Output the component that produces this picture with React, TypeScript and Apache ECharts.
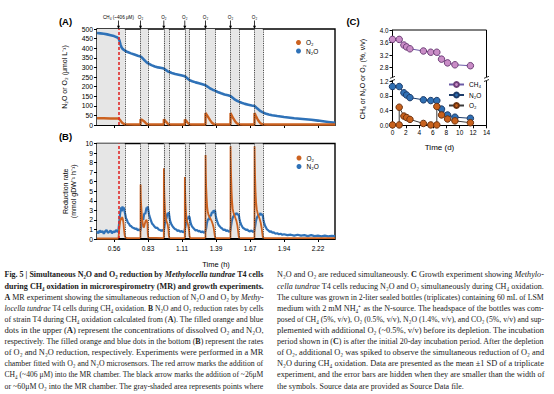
import React, { useEffect, useRef } from 'react';
import * as echarts from 'echarts';

const N2O_COLOR = '#2f72b8';
const O2_COLOR = '#cc6220';
const SHADE = '#e6e6e6';

// ---- Panels A & B: time in seconds, labelled in hours ----
const timeTicks = [2000, 3000, 4000, 5000, 6000, 7000, 8000];
const ch4Addition = 2132;
const o2Additions = [2779, 3465, 4082, 4691, 5426, 6132];
const shadedBands = [[1500, 2318], [2779, 2994], [3465, 3612], [4082, 4221], [4691, 4970], [5426, 5671], [6132, 6376]];
const rateBands = [[2132, 2318], [2779, 2994], [3465, 3612], [4082, 4221], [4691, 4970], [5426, 5671], [6132, 6376]];
const dottedLines = [2318, 2779, 2994, 3465, 3612, 4082, 4221, 4691, 4970, 5426, 5671, 6132, 6376];

// (A) dissolved N2O (umol/L)
const aN2O = [
  [1500, 479], [1600, 477], [1700, 475], [1800, 472], [1900, 468], [2000, 463], [2100, 456], [2132, 452],
  [2160, 440], [2190, 420], [2220, 405], [2260, 395], [2318, 388], [2400, 380], [2500, 373], [2600, 367],
  [2700, 361], [2779, 357], [2830, 350], [2880, 340], [2940, 330], [2994, 322], [3100, 312], [3200, 305],
  [3300, 300], [3400, 297], [3465, 294], [3520, 287], [3570, 281], [3612, 277], [3700, 271], [3800, 266],
  [3900, 262], [4000, 258], [4082, 254], [4130, 247], [4180, 240], [4221, 234], [4300, 228], [4400, 222],
  [4500, 217], [4600, 212], [4691, 207], [4760, 199], [4830, 190], [4900, 184], [4970, 179], [5050, 172],
  [5150, 165], [5250, 159], [5350, 155], [5426, 151], [5490, 142], [5560, 132], [5620, 126], [5671, 122],
  [5750, 116], [5850, 110], [5950, 106], [6050, 102], [6132, 99], [6190, 90], [6250, 81], [6310, 72],
  [6376, 66], [6450, 60], [6550, 55], [6650, 51], [6800, 47], [7000, 42], [7300, 35], [7550, 31],
  [7800, 27], [8000, 23], [8300, 16], [8500, 11],
];
// (A) dissolved O2 (umol/L)
const aO2 = [
  [1500, 35], [1700, 35], [1900, 34], [2100, 34], [2132, 34], [2170, 28], [2210, 18], [2250, 10], [2290, 6],
  [2318, 4], [2400, 3], [2600, 2.5], [2779, 2.5], [2781, 30], [2820, 27], [2870, 21], [2920, 13], [2960, 6],
  [2994, 3], [3100, 2.5], [3465, 2.5], [3467, 30], [3500, 24], [3540, 15], [3580, 7], [3612, 3], [3700, 2.5],
  [4082, 2.5], [4084, 29], [4120, 22], [4160, 13], [4200, 6], [4221, 3], [4300, 2.5], [4691, 2.5], [4693, 63],
  [4730, 52], [4780, 38], [4830, 24], [4880, 12], [4930, 5], [4970, 3], [5100, 2.5], [5426, 2.5], [5428, 62],
  [5460, 50], [5510, 34], [5560, 20], [5610, 9], [5671, 3], [5800, 2.5], [6132, 2.5], [6134, 62], [6170, 48],
  [6220, 31], [6270, 17], [6320, 7], [6376, 3], [6500, 2.5], [8500, 2.5],
];

// (B) N2O reduction rate (mmol gDW-1 h-1)
const bN2O = [
  [1500, 0.8], [1540, 0.6], [1580, 0.9], [1620, 0.7], [1660, 0.85], [1700, 0.55], [1740, 0.8], [1780, 0.95],
  [1820, 0.65], [1860, 0.75], [1900, 0.9], [1940, 0.6], [1980, 0.8], [2020, 0.7], [2060, 0.95], [2100, 0.75],
  [2130, 0.85], [2150, 1.6], [2170, 2.4], [2190, 2.9], [2210, 3.3], [2230, 2.9], [2250, 3.4], [2270, 3.0],
  [2290, 3.3], [2310, 2.9], [2330, 2.6], [2350, 2.2], [2380, 2.0], [2410, 1.7], [2440, 1.6], [2470, 1.4],
  [2500, 1.35], [2540, 1.2], [2580, 1.15], [2620, 1.05], [2660, 1.1], [2700, 0.9], [2740, 1.0], [2775, 0.85],
  [2800, 1.3], [2820, 1.9], [2840, 2.2], [2860, 2.0], [2880, 2.5], [2900, 2.7], [2920, 2.6], [2940, 3.0],
  [2960, 3.3], [2980, 3.1], [2994, 3.4], [3010, 3.0], [3030, 2.6], [3060, 2.2], [3090, 1.9], [3120, 1.6],
  [3150, 1.5], [3190, 1.3], [3230, 1.15], [3270, 1.2], [3310, 1.0], [3350, 0.95], [3390, 0.85], [3430, 0.95],
  [3460, 0.8], [3480, 1.2], [3500, 1.8], [3520, 2.2], [3540, 2.1], [3560, 2.5], [3580, 2.7], [3600, 2.6],
  [3612, 2.8], [3630, 2.3], [3650, 1.9], [3680, 1.6], [3710, 1.4], [3750, 1.2], [3790, 1.05], [3830, 1.0],
  [3870, 0.85], [3910, 0.9], [3950, 0.75], [3990, 0.85], [4030, 0.7], [4070, 0.8], [4100, 1.3], [4120, 1.8],
  [4140, 2.0], [4160, 2.2], [4180, 2.1], [4200, 2.4], [4221, 2.3], [4240, 1.9], [4260, 1.6], [4290, 1.35],
  [4320, 1.2], [4360, 1.05], [4400, 0.9], [4440, 0.95], [4480, 0.8], [4520, 0.85], [4560, 0.7], [4600, 0.8],
  [4640, 0.65], [4685, 0.75], [4710, 1.1], [4730, 1.6], [4750, 1.9], [4770, 2.1], [4790, 2.0], [4810, 2.3],
  [4830, 2.5], [4850, 2.4], [4870, 2.7], [4890, 2.8], [4910, 2.7], [4930, 3.0], [4950, 2.9], [4970, 3.0],
  [4990, 2.5], [5010, 2.1], [5040, 1.8], [5070, 1.5], [5100, 1.35], [5140, 1.2], [5180, 1.1], [5220, 0.95],
  [5260, 1.0], [5300, 0.85], [5340, 0.9], [5380, 0.75], [5420, 0.85], [5440, 1.3], [5460, 1.8], [5480, 2.1],
  [5500, 2.3], [5520, 2.4], [5540, 2.6], [5560, 2.5], [5580, 2.7], [5600, 2.6], [5620, 2.7], [5640, 2.5],
  [5660, 2.6], [5671, 2.5], [5690, 2.1], [5710, 1.8], [5740, 1.5], [5770, 1.3], [5800, 1.15], [5840, 1.05],
  [5880, 0.95], [5920, 1.0], [5960, 0.85], [6000, 0.8], [6040, 0.9], [6080, 0.75], [6125, 0.8], [6150, 1.3],
  [6170, 1.8], [6190, 2.1], [6210, 2.3], [6230, 2.4], [6250, 2.6], [6270, 2.5], [6290, 2.6], [6310, 2.7],
  [6330, 2.5], [6350, 2.6], [6376, 2.5], [6395, 2.0], [6415, 1.7], [6440, 1.4], [6470, 1.2], [6500, 1.0],
  [6540, 0.9], [6580, 0.75], [6620, 0.8], [6660, 0.65], [6700, 0.7], [6750, 0.55], [6800, 0.6], [6850, 0.5],
  [6900, 0.55], [6950, 0.45], [7000, 0.5], [7100, 0.4], [7200, 0.45], [7300, 0.35], [7400, 0.45], [7500, 0.35],
  [7600, 0.4], [7700, 0.3], [7800, 0.4], [7900, 0.3], [8000, 0.35], [8100, 0.28], [8200, 0.35], [8300, 0.28],
  [8400, 0.33], [8500, 0.3],
];
// (B) O2 reduction rate (mmol gDW-1 h-1)
const bO2 = [
  [1500, 0.05], [2132, 0.05], [2140, 0.5], [2160, 1.2], [2180, 1.8], [2200, 2.2], [2220, 2.0], [2240, 2.3],
  [2260, 2.1], [2280, 1.6], [2300, 0.8], [2318, 0.3], [2340, 0.15], [2400, 0.1], [2779, 0.1], [2782, 5.7],
  [2790, 4.2], [2800, 3.5], [2820, 2.4], [2840, 1.8], [2860, 1.3], [2880, 1.2], [2900, 1.5], [2930, 1.9],
  [2960, 2.0], [2985, 1.6], [2994, 0.5], [3010, 0.15], [3465, 0.1], [3467, 7.4], [3475, 5.5], [3485, 4.2],
  [3500, 3.0], [3520, 2.3], [3540, 1.9], [3560, 1.7], [3580, 1.5], [3600, 1.0], [3612, 0.4], [3630, 0.1],
  [4082, 0.1], [4084, 6.5], [4092, 5.0], [4102, 3.8], [4115, 2.9], [4130, 2.2], [4150, 1.8], [4170, 1.6],
  [4190, 1.3], [4210, 0.8], [4221, 0.3], [4240, 0.1], [4691, 0.1], [4693, 8.8], [4700, 7.0], [4710, 5.5],
  [4725, 4.3], [4740, 3.4], [4760, 2.8], [4780, 2.5], [4810, 2.3], [4840, 2.1], [4870, 1.9], [4900, 1.6],
  [4930, 1.2], [4955, 0.6], [4970, 0.2], [4990, 0.1], [5426, 0.1], [5428, 9.7], [5435, 8.0], [5445, 6.5],
  [5458, 5.0], [5472, 4.0], [5490, 3.2], [5510, 2.8], [5540, 2.5], [5570, 2.2], [5600, 1.9], [5630, 1.4],
  [5655, 0.7], [5671, 0.2], [5690, 0.1], [6132, 0.1], [6134, 9.7], [6141, 8.0], [6151, 6.3], [6164, 4.8],
  [6180, 3.8], [6200, 3.1], [6225, 2.7], [6255, 2.4], [6285, 2.1], [6315, 1.7], [6345, 1.1], [6365, 0.5],
  [6376, 0.2], [6400, 0.1], [8500, 0.1],
];

// ---- Panel C: growth experiment (days, %, v/v) ----
const cDays = [0, 1, 1.7, 2.1, 2.6, 4.6, 5.7, 6.6, 7.3, 8.2, 9.3, 11.6];
const cCH4 = [3.7, 3.7, 3.52, 3.46, 3.4, 3.33, 3.29, 3.29, 3.07, 2.95, 2.89, 2.86];
const cN2O = [1.05, 1.05, 0.88, 0.82, 0.75, 0.69, 0.67, 0.67, 0.44, 0.28, 0.22, 0.19];
const cO2 = [[0, 0.01], [1, 0.01], [1, 0.49], [1.7, 0.25], [2.1, 0.21], [2.6, 0.16], [4.6, 0.05], [5.7, 0.01], [6.6, 0.01], [6.6, 0.51], [7.3, 0.28], [8.2, 0.17], [9.3, 0.12], [11.6, 0.07]];
const cUpperTicks = [2.8, 3.2, 3.6, 4.0];

// ---- Caption ----
type Seg = [string, string];
const captionLeft: Seg[][] = [
  [['b', 'Fig. 5 | Simultaneous N₂O and O₂ reduction by '], ['bi', 'Methylocella tundrae'], ['b', ' T4 cells']],
  [['b', 'during CH₄ oxidation in microrespirometry (MR) and growth experiments.']],
  [['b', 'A'], ['n', ' MR experiment showing the simultaneous reduction of N₂O and O₂ by '], ['i', 'Methy-']],
  [['i', 'locella tundrae'], ['n', ' T4 cells during CH₄ oxidation. '], ['b', 'B'], ['n', ' N₂O and O₂ reduction rates by cells']],
  [['n', 'of strain T4 during CH₄ oxidation calculated from ('], ['b', 'A'], ['n', '). The filled orange and blue']],
  [['n', 'dots in the upper ('], ['b', 'A'], ['n', ') represent the concentrations of dissolved O₂ and N₂O,']],
  [['n', 'respectively. The filled orange and blue dots in the bottom ('], ['b', 'B'], ['n', ') represent the rates']],
  [['n', 'of O₂ and N₂O reduction, respectively. Experiments were performed in a MR']],
  [['n', 'chamber fitted with O₂ and N₂O microsensors. The red arrow marks the addition of']],
  [['n', 'CH₄ (~406 μM) into the MR chamber. The black arrow marks the addition of ~26μM']],
  [['n', 'or ~60μM O₂ into the MR chamber. The gray-shaded area represents points where']],
];
const captionRight: Seg[][] = [
  [['n', 'N₂O and O₂ are reduced simultaneously. '], ['b', 'C'], ['n', ' Growth experiment showing '], ['i', 'Methylo-']],
  [['i', 'cella tundrae'], ['n', ' T4 cells reducing N₂O and O₂ simultaneously during CH₄ oxidation.']],
  [['n', 'The culture was grown in 2-liter sealed bottles (triplicates) containing 60 mL of LSM']],
  [['n', 'medium with 2 mM NH₄⁺ as the N-source. The headspace of the bottles was com-']],
  [['n', 'posed of CH₄ (5%, v/v), O₂ (0.5%, v/v), N₂O (1.4%, v/v), and CO₂ (5%, v/v) and sup-']],
  [['n', 'plemented with additional O₂ (~0.5%, v/v) before its depletion. The incubation']],
  [['n', 'period shown in ('], ['b', 'C'], ['n', ') is after the initial 20-day incubation period. After the depletion']],
  [['n', 'of O₂, additional O₂ was spiked to observe the simultaneous reduction of O₂ and']],
  [['n', 'N₂O during CH₄ oxidation. Data are presented as the mean ±1 SD of a triplicate']],
  [['n', 'experiment, and the error bars are hidden when they are smaller than the width of']],
  [['n', 'the symbols. Source data are provided as Source Data file.']],
];

const CAP_FONT = '"Liberation Serif"';

function measureLine(ctx: CanvasRenderingContext2D, segs: Seg[], size: number) {
  let w = 0;
  for (const [st, t] of segs) {
    const weight = st.includes('b') ? 'bold' : 'normal';
    const style = st.includes('i') ? 'italic' : 'normal';
    ctx.font = `${style} ${weight} ${size}px ${CAP_FONT}`;
    w += ctx.measureText(t).width;
  }
  return w;
}

function buildCaption(): any[] {
  const canvas = document.createElement('canvas');
  const ctx = canvas.getContext('2d') as CanvasRenderingContext2D;
  const cols = [
    { lines: captionLeft, x: 4.5, width: 259 },
    { lines: captionRight, x: 277, width: 267 },
  ];
  const ratios: number[] = [];
  cols.forEach((c) => c.lines.forEach((l, i) => {
    if (c.lines === captionRight && i === c.lines.length - 1) return;
    ratios.push(c.width / measureLine(ctx, l, 10));
  }));
  ratios.sort((a, b) => a - b);
  const size = 10 * ratios[Math.floor(ratios.length / 2)];
  const rich = {
    n: { fontFamily: CAP_FONT, fontSize: size, fill: '#1a1a1a' },
    b: { fontFamily: CAP_FONT, fontSize: size, fontWeight: 'bold', fill: '#1a1a1a' },
    i: { fontFamily: CAP_FONT, fontSize: size, fontStyle: 'italic', fill: '#1a1a1a' },
    bi: { fontFamily: CAP_FONT, fontSize: size, fontWeight: 'bold', fontStyle: 'italic', fill: '#1a1a1a' },
  };
  const out: any[] = [];
  cols.forEach((c) => c.lines.forEach((l, i) => {
    const natural = measureLine(ctx, l, size);
    const last = c.lines === captionRight && i === c.lines.length - 1;
    let sx = last ? 1 : c.width / natural;
    sx = Math.max(0.85, Math.min(1.15, sx));
    out.push({
      type: 'text', x: c.x, y: 275 + i * 11.1, scaleX: sx, silent: true,
      style: {
        text: l.map(([st, t]) => `{${st}|${t}}`).join(''), rich,
        fontFamily: CAP_FONT, fontSize: size, textVerticalAlign: 'middle', verticalAlign: 'middle',
      },
    });
  }));
  return out;
}

const axisBlack = { lineStyle: { color: '#000', width: 1 } };
const tickBlack = { length: 3, lineStyle: { color: '#000', width: 1 } };

export default function App() {
  const ref = useRef<HTMLDivElement>(null);
  useEffect(() => {
    if (!ref.current) return;
    const chart = echarts.init(ref.current, undefined, { renderer: 'svg' });
    const markAreaData = shadedBands.map(([a, b]) => [{ xAxis: a }, { xAxis: b }]);
    const dotted = dottedLines.map((t) => ({ xAxis: t }));
    const redLine = { xAxis: ch4Addition, lineStyle: { type: [3, 2], color: '#e02a2a', width: 1.6 } };
    const markLineBase = { silent: true, symbol: ['none', 'none'], label: { show: false }, lineStyle: { type: 'dotted', color: '#222', width: 0.9 } };
    const option: any = {
      animation: false,
      textStyle: { fontFamily: 'Liberation Sans', color: '#000' },
      grid: [
        { left: 97, top: 29, width: 238, height: 96, show: true, borderColor: '#000', borderWidth: 1.4, backgroundColor: 'transparent' },
        { left: 97, top: 143.5, width: 238, height: 95.5, show: true, borderColor: '#000', borderWidth: 1.4, backgroundColor: 'transparent' },
        { left: 392.5, top: 30, width: 94, height: 47 },
        { left: 392.5, top: 81, width: 94, height: 44.3 },
      ],
      xAxis: [
        { type: 'value', gridIndex: 0, min: 1500, max: 8500, axisLine: axisBlack, axisTick: { ...tickBlack, customValues: timeTicks }, axisLabel: { show: false }, splitLine: { show: false } },
        {
          type: 'value', gridIndex: 1, min: 1500, max: 8500, axisLine: axisBlack, axisTick: { ...tickBlack, customValues: timeTicks },
          axisLabel: { customValues: timeTicks, formatter: (v: number) => (v / 3600).toFixed(2), fontSize: 6.5, margin: 6, color: '#000' },
          splitLine: { show: false }, name: 'Time (h)', nameLocation: 'middle', nameGap: 21, nameTextStyle: { fontSize: 7.5, color: '#000' },
        },
        { type: 'value', gridIndex: 2, min: 0, max: 14, show: false },
        {
          type: 'value', gridIndex: 3, min: 0, max: 14, interval: 2, axisLine: axisBlack, axisTick: tickBlack,
          axisLabel: { fontSize: 6.5, margin: 4, color: '#000' }, splitLine: { show: false },
          name: 'Time (d)', nameLocation: 'middle', nameGap: 18, nameTextStyle: { fontSize: 8, color: '#000' },
        },
      ],
      yAxis: [
        {
          type: 'value', gridIndex: 0, min: 0, max: 500, interval: 50, axisLine: { show: true, ...axisBlack }, axisTick: { show: true, ...tickBlack },
          axisLabel: { fontSize: 6.8, margin: 4, color: '#000' }, splitLine: { show: false },
          name: 'N₂O or O₂ (μmol L⁻¹)', nameLocation: 'middle', nameGap: 29, nameTextStyle: { fontSize: 7, color: '#000' },
        },
        {
          type: 'value', gridIndex: 1, min: 0, max: 10, interval: 1, axisLine: { show: true, ...axisBlack }, axisTick: { show: true, ...tickBlack },
          axisLabel: { fontSize: 6.8, margin: 4, color: '#000' }, splitLine: { show: false },
          name: 'Reduction rate\n(mmol gDW⁻¹ h⁻¹)', nameLocation: 'middle', nameGap: 20, nameTextStyle: { fontSize: 7, lineHeight: 8, color: '#000' },
        },
        {
          type: 'value', gridIndex: 2, min: 2.5, max: 4.0, axisLine: { show: true, ...axisBlack },
          axisTick: { show: true, ...tickBlack, customValues: cUpperTicks },
          axisLabel: { customValues: cUpperTicks, formatter: (v: number) => v.toFixed(1), fontSize: 6.3, margin: 4, color: '#000' }, splitLine: { show: false },
        },
        {
          type: 'value', gridIndex: 3, min: 0, max: 1.2, interval: 0.4, axisLine: { show: true, ...axisBlack }, axisTick: { show: true, ...tickBlack },
          axisLabel: { formatter: (v: number) => v.toFixed(1), fontSize: 6.3, margin: 4, color: '#000' }, splitLine: { show: false },
        },
      ],
      legend: [
        { data: ['O₂', 'N₂O'], left: 296, top: 39, orient: 'vertical', icon: 'circle', itemWidth: 5, itemHeight: 5, itemGap: 1.5, padding: 0, selectedMode: false, textStyle: { fontSize: 6.5, color: '#000' } },
        { data: ['O₂', 'N₂O'], left: 296.5, top: 154.5, orient: 'vertical', icon: 'circle', itemWidth: 5, itemHeight: 5, itemGap: 1.5, padding: 0, selectedMode: false, textStyle: { fontSize: 6.5, color: '#000' } },
        { data: ['CH₄', 'N₂O ', 'O₂ '], left: 448, top: 81, orient: 'vertical', itemWidth: 15, itemHeight: 6, itemGap: 3.5, padding: 0, selectedMode: false, formatter: (n: string) => n.trim(), textStyle: { fontSize: 6.5, color: '#000' } },
      ],
      series: [
        {
          name: 'N₂O', type: 'line', xAxisIndex: 0, yAxisIndex: 0, data: aN2O, showSymbol: false, symbol: 'circle',
          lineStyle: { color: N2O_COLOR, width: 2.6 }, itemStyle: { color: N2O_COLOR }, z: 3,
          markArea: { silent: true, itemStyle: { color: SHADE }, data: markAreaData },
          markLine: { ...markLineBase, data: [...dotted, redLine] },
        },
        {
          name: 'O₂', type: 'line', xAxisIndex: 0, yAxisIndex: 0, data: aO2, showSymbol: false, symbol: 'circle',
          lineStyle: { color: O2_COLOR, width: 2.4 }, itemStyle: { color: O2_COLOR }, z: 4,
        },
        {
          name: 'N₂O', type: 'line', xAxisIndex: 1, yAxisIndex: 1, data: bN2O, showSymbol: false, symbol: 'circle',
          lineStyle: { color: N2O_COLOR, width: 2.2 }, itemStyle: { color: N2O_COLOR }, z: 3,
          markArea: { silent: true, itemStyle: { color: SHADE }, data: markAreaData },
          markLine: {
            ...markLineBase,
            data: [
              ...dotted, redLine,
              ...rateBands.map(([a, b]) => [{ coord: [a, 0], lineStyle: { type: 'solid', color: '#000', width: 2 } }, { coord: [b, 0] }]),
            ],
          },
        },
        {
          name: 'O₂', type: 'line', xAxisIndex: 1, yAxisIndex: 1, data: bO2, showSymbol: false, symbol: 'circle',
          lineStyle: { color: O2_COLOR, width: 1.8 }, itemStyle: { color: O2_COLOR }, z: 4,
        },
        {
          name: 'CH₄', type: 'line', xAxisIndex: 2, yAxisIndex: 2, data: cDays.map((d, i) => [d, cCH4[i]]),
          symbol: 'circle', symbolSize: 6.5, lineStyle: { color: '#6a5aa6', width: 1 },
          itemStyle: { color: '#c98cc6', borderColor: '#6e3f78', borderWidth: 1 },
        },
        {
          name: 'N₂O ', type: 'line', xAxisIndex: 3, yAxisIndex: 3, data: cDays.map((d, i) => [d, cN2O[i]]),
          symbol: 'circle', symbolSize: 6.5, lineStyle: { color: '#1d3c6a', width: 1 },
          itemStyle: { color: '#2f6fb3', borderColor: '#1d3c6a', borderWidth: 1 }, z: 3,
        },
        {
          name: 'O₂ ', type: 'line', xAxisIndex: 3, yAxisIndex: 3, data: cO2,
          symbol: 'circle', symbolSize: 6.5, lineStyle: { color: '#3a3a3a', width: 1 },
          itemStyle: { color: '#c8611c', borderColor: '#6b3210', borderWidth: 1 }, z: 4,
        },
      ],
    };
    chart.setOption(option);

    const g: any[] = [];
    const txt = (x: number, y: number, text: string, extra: any = {}, el: any = {}) => ({
      type: 'text', x, y, silent: true, ...el,
      style: { text, fill: '#000', fontFamily: 'Liberation Sans', textAlign: 'center', textVerticalAlign: 'middle', align: 'center', verticalAlign: 'middle', ...extra },
    });
    // panel titles
    g.push(txt(65.5, 21.5, '(A)', { fontSize: 9.5, fontWeight: 'bold' }));
    g.push(txt(65.5, 136.5, '(B)', { fontSize: 9.5, fontWeight: 'bold' }));
    g.push(txt(353, 21.5, '(C)', { fontSize: 9.5, fontWeight: 'bold' }));
    // addition arrows above panel A
    const arrow = (x: number) => {
      g.push({ type: 'line', silent: true, shape: { x1: x, y1: 20.5, x2: x, y2: 26.5 }, style: { stroke: '#000', lineWidth: 0.8 } });
      g.push({ type: 'polygon', silent: true, shape: { points: [[x - 1.5, 25.8], [x + 1.5, 25.8], [x, 29]] }, style: { fill: '#000' } });
    };
    const xCH4 = chart.convertToPixel({ xAxisIndex: 0 }, ch4Addition) as number;
    arrow(xCH4);
    g.push(txt(xCH4, 17, 'CH₄ (~406 μM)', { fontSize: 4.6 }));
    o2Additions.forEach((t) => {
      const x = chart.convertToPixel({ xAxisIndex: 0 }, t) as number;
      arrow(x);
      g.push(txt(x, 17, 'O₂', { fontSize: 4.6 }));
    });
    // mixing period note
    g.push(txt(xCH4 - 11, 71, 'mixing\nperiod', { fontSize: 4.6, lineHeight: 5 }));
    g.push({ type: 'line', silent: true, shape: { x1: xCH4 - 7.5, y1: 76.5, x2: xCH4 - 2, y2: 82.5 }, style: { stroke: '#e02a2a', lineWidth: 0.8, lineDash: [1.5, 1] } });
    g.push({ type: 'polygon', silent: true, shape: { points: [[xCH4 - 3.6, 82.2], [xCH4 - 1.2, 80.4], [xCH4 - 0.8, 84]] }, style: { fill: '#e02a2a' } });
    // panel C frame and axis breaks
    const cl = 392.5, cr = 486.5;
    g.push({ type: 'line', silent: true, shape: { x1: cl, y1: 30, x2: cr, y2: 30 }, style: { stroke: '#000', lineWidth: 1 } });
    g.push({ type: 'line', silent: true, shape: { x1: cr, y1: 30, x2: cr, y2: 77 }, style: { stroke: '#000', lineWidth: 1 } });
    g.push({ type: 'line', silent: true, shape: { x1: cr, y1: 81, x2: cr, y2: 125.3 }, style: { stroke: '#000', lineWidth: 1 } });
    [cl, cr].forEach((x) => {
      g.push({ type: 'line', silent: true, shape: { x1: x - 2.5, y1: 78.3, x2: x + 2.5, y2: 76.3 }, style: { stroke: '#000', lineWidth: 0.8 } });
      g.push({ type: 'line', silent: true, shape: { x1: x - 2.5, y1: 81.5, x2: x + 2.5, y2: 79.5 }, style: { stroke: '#000', lineWidth: 0.8 } });
    });
    g.push(txt(362, 79, 'CH₄ or N₂O or O₂ (%, v/v)', { fontSize: 7 }, { rotation: Math.PI / 2 }));
    // caption
    g.push(...buildCaption());
    chart.setOption({ graphic: g });
    return () => chart.dispose();
  }, []);
  return <div ref={ref} style={{ position: 'fixed', left: 0, top: 0, width: 554, height: 394, background: '#fff' }} />;
}
